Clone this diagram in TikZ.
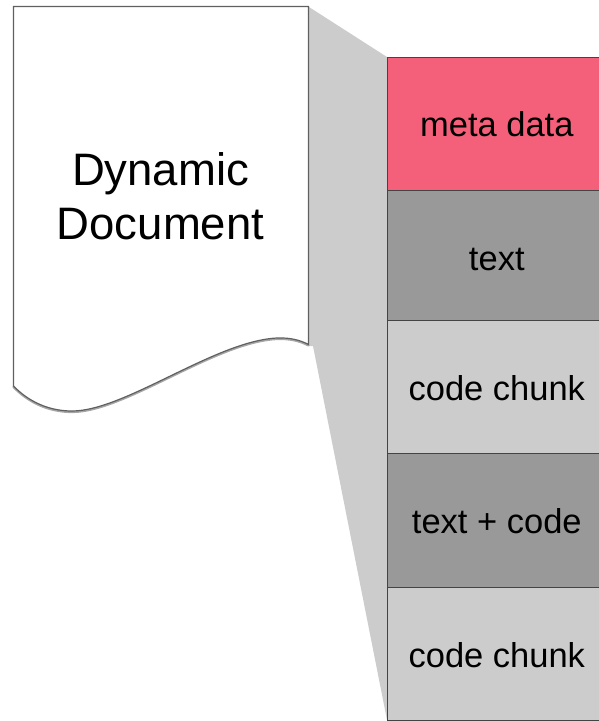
\documentclass[tikz,border=0pt]{standalone}
\usepackage{fontspec}
\setmainfont{Liberation Sans}
\definecolor{pinkbox}{HTML}{F4607A}
\definecolor{darkbox}{HTML}{999999}
\definecolor{lightbox}{HTML}{CCCCCC}
\definecolor{edge}{HTML}{444444}
\tikzset{
  part/.style={draw=edge,line width=1.2pt,minimum width=218.4pt,minimum height=#1,inner sep=0pt,font=\fontsize{34.5}{34.5}\selectfont,text=black,anchor=north west,text height=24pt,text depth=0pt},
}
\begin{document}
\begin{tikzpicture}[x=1pt,y=-1pt]
\useasboundingbox (0,0) rectangle (599,721);
% zoom wedge
\fill[lightbox] (309,7) -- (387,57) -- (387,720) -- (313,346) -- (309,346) -- cycle;
% stacked parts
\node[part=133pt,fill=pinkbox] (meta) at (387,57) {\raisebox{-0.5pt}{meta data}};
\node[part=130pt,fill=darkbox] (text1) at (387,190) {\raisebox{-3pt}{text}};
\node[part=133pt,fill=lightbox] (code1) at (387,320) {\raisebox{-1.5pt}{code chunk}};
\node[part=133.5pt,fill=darkbox] (mixed) at (387,453) {\raisebox{-1pt}{text + code}};
\node[part=133pt,fill=lightbox] (code2) at (387,586.5) {\raisebox{-2pt}{code chunk}};
% document shape
\draw[draw=gray!70,line width=2.2pt,line cap=round]
  (13.5,387) .. controls (28,402) and (48,412) .. (72,412)
  .. controls (125,412) and (215,342) .. (277,339)
  .. controls (290,338.5) and (300,341) .. (308.5,345.5);
\draw[draw=edge!85,line width=1.2pt,fill=white]
  (13.5,6.5) -- (308.5,6.5) -- (308.5,344.5)
  .. controls (300,340) and (290,337.5) .. (277,338)
  .. controls (215,341) and (125,411) .. (72,411)
  .. controls (48,411) and (28,401) .. (13.5,386) -- cycle;
\node[align=center,font=\fontsize{45.5}{54.5}\selectfont,text=black,inner sep=0pt] (doc) at (160.5,196) {Dynamic\\Document};
\end{tikzpicture}
\end{document}
